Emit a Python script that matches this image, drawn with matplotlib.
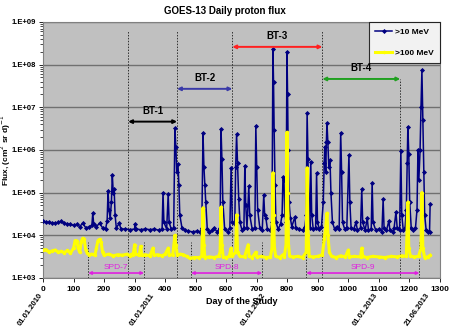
import matplotlib.pyplot as plt
from matplotlib.ticker import FixedLocator, LogLocator, NullFormatter

# >10 MeV daily flux (day, value)
days_10 = [0, 10, 20, 30, 40, 50, 60, 70, 80, 90, 100, 110, 120, 130, 140, 150, 160, 163, 166, 175,
           185, 195, 205, 210, 213, 216, 220, 224, 227, 230, 233, 236, 240, 250, 255, 270, 285, 300, 301, 305,
           320, 335, 350, 365, 380, 390, 393, 396, 405, 410, 413, 420, 428, 432, 435, 438, 442, 445, 448, 455,
           465, 475, 490, 505, 515, 520, 524, 527, 530, 533, 538, 545, 555, 560, 570, 580, 583, 586, 589, 595,
           605, 612, 616, 620, 628, 631, 634, 637, 641, 645, 652, 658, 661, 664, 668, 674, 677, 685, 694, 697,
           700, 703, 710, 718, 723, 726, 730, 735, 745, 750, 753, 755, 757, 760, 763, 770, 778, 783, 786, 789,
           792, 796, 799, 801, 803, 806, 810, 815, 825, 828, 840, 850, 858, 862, 865, 868, 871, 874, 877, 880,
           885, 893, 896, 899, 905, 912, 918, 921, 923, 926, 928, 930, 933, 936, 940, 943, 948, 955, 962, 970,
           975, 978, 981, 988, 995, 1002, 1005, 1009, 1018, 1025, 1030, 1040, 1044, 1047, 1055, 1062, 1066, 1075, 1078, 1081,
           1090, 1100, 1110, 1114, 1117, 1125, 1133, 1136, 1145, 1150, 1156, 1160, 1168, 1172, 1175, 1180, 1186, 1190, 1193, 1195,
           1198, 1201, 1206, 1213, 1220, 1225, 1228, 1231, 1235, 1238, 1241, 1244, 1247, 1250, 1255, 1262, 1266, 1268]
flux_10 = [2.1e4, 2.0e4, 2.0e4, 1.95e4, 1.9e4, 2.0e4, 2.1e4, 1.9e4, 1.85e4, 1.8e4, 1.7e4, 1.8e4, 1.6e4, 1.9e4, 1.5e4, 1.55e4, 1.7e4, 3.3e4, 1.8e4, 1.6e4,
           1.9e4, 1.5e4, 1.4e4, 2.2e4, 1.1e5, 4e4, 2.5e4, 6e4, 2.6e5, 1.0e5, 1.2e5, 3e4, 1.5e4, 1.9e4, 1.4e4, 1.4e4, 1.35e4, 1.4e4, 1.8e4, 1.4e4,
           1.35e4, 1.4e4, 1.35e4, 1.4e4, 1.3e4, 1.4e4, 1.0e5, 2e4, 1.4e4, 9.5e4, 2e4, 1.4e4, 1.5e4, 3.2e6, 1.2e6, 3e5, 4.7e5, 1.5e5, 3e4, 1.5e4,
           1.3e4, 1.25e4, 1.2e4, 1.25e4, 1.2e4, 1.5e4, 2.5e6, 4e5, 1.5e5, 6e4, 1.4e4, 1.2e4, 1.3e4, 1.5e4, 1.2e4, 1.5e4, 3.1e6, 6e5, 6e4, 1.4e4,
           1.2e4, 1.5e4, 3.8e5, 2e4, 1.8e4, 4e5, 2.3e6, 5e5, 7e4, 2e4, 1.3e4, 1.5e4, 4.3e5, 5e4, 1.5e4, 1.4e5, 3e4, 1.4e4, 1.5e4, 3.7e6,
           4e5, 4e4, 1.5e4, 1.3e4, 8.9e4, 3e4, 2.5e4, 1.4e4, 1.3e4, 2e4, 2.3e8, 4e7, 3e6, 1.5e5, 2e4, 1.4e4, 1.8e4, 3e4, 2.3e5, 2e5,
           3e4, 2e4, 2.0e8, 2e7, 1e6, 6e4, 2.5e4, 1.6e4, 2.7e4, 1.5e4, 1.4e4, 1.3e4, 1.6e4, 3e4, 7.4e6, 6e5, 4e4, 1.5e4, 5.3e5, 3e4,
           1.4e4, 1.5e4, 2.9e5, 2e4, 1.4e4, 1.6e4, 6e4, 5e5, 1.2e6, 3e5, 1.5e6, 4.3e6, 1.5e6, 4e5, 5.8e5, 1e5, 2e4, 1.4e4, 1.6e4, 1.4e4,
           2.5e6, 3e5, 2e4, 1.4e4, 1.5e4, 7.6e5, 6e4, 1.5e4, 1.4e4, 2e4, 1.3e4, 1.5e4, 1.2e5, 2e4, 1.3e4, 2.5e4, 1.3e4, 1.4e4, 1.7e5, 2e4,
           1.3e4, 1.4e4, 1.2e4, 7e4, 1.5e4, 1.3e4, 2.2e4, 1.3e4, 1.2e4, 1.5e4, 3.5e4, 1.5e4, 1.3e4, 9.5e5, 3e4, 1.3e4, 1.5e4, 4e4, 5e5, 3.5e6,
           8e5, 6e4, 1.5e4, 1.3e4, 1.5e4, 4e4, 1e6, 2e5, 1e6, 1e7, 7.5e7, 5e6, 3e5, 3e4, 1.3e4, 1.2e4, 1.2e4, 5.5e4]

# >100 MeV daily flux
days_100 = [0, 10, 20, 30, 40, 50, 60, 70, 80, 90, 100, 105, 110, 115, 120, 125, 130, 135, 140, 145,
            150, 160, 170, 175, 180, 185, 190, 195, 200, 215, 230, 245, 260, 275, 285, 290, 295, 300, 303, 315,
            320, 323, 335, 350, 360, 363, 375, 390, 400, 410, 413, 425, 432, 435, 440, 450, 460, 470, 480, 495,
            510, 520, 524, 527, 530, 545, 560, 575, 580, 583, 586, 590, 600, 610, 616, 619, 631, 634, 637, 645,
            660, 672, 675, 685, 697, 700, 715, 730, 745, 750, 753, 755, 758, 762, 775, 786, 790, 796, 799, 801,
            804, 808, 820, 835, 850, 862, 865, 868, 872, 885, 900, 915, 921, 926, 930, 933, 938, 945, 960, 975,
            990, 1000, 1003, 1020, 1040, 1044, 1047, 1060, 1080, 1100, 1120, 1140, 1160, 1175, 1190, 1195, 1198, 1203, 1215, 1230,
            1238, 1241, 1244, 1250, 1260, 1268]
flux_100 = [4.5e3, 4.6e3, 4.0e3, 4.3e3, 4.5e3, 4.0e3, 4.2e3, 3.9e3, 4.4e3, 3.8e3, 5e3, 7.5e3, 7.5e3, 5e3, 4e3, 7e3, 8.5e3, 8e3, 4.5e3, 3.8e3,
            3.5e3, 3.6e3, 3.4e3, 5e3, 7.5e3, 8e3, 7e3, 4e3, 3.4e3, 3.6e3, 3.3e3, 3.5e3, 3.4e3, 3.6e3, 3.3e3, 3.6e3, 3.4e3, 6e3, 3.6e3, 3.4e3,
            5.5e3, 3.4e3, 3.5e3, 3.3e3, 5e3, 3.4e3, 3.5e3, 3.3e3, 3.6e3, 5e3, 3.4e3, 3.5e3, 1.0e4, 6e3, 3.4e3, 3.6e3, 3.5e3, 3.2e3, 2.9e3, 3.0e3,
            3.0e3, 3.2e3, 4.4e4, 6e3, 3e3, 3.1e3, 3.0e3, 3.2e3, 4e3, 4.6e4, 6e3, 3.1e3, 3.0e3, 3.2e3, 5e3, 3.2e3, 4e3, 3e4, 4e3, 3.2e3,
            3.1e3, 6e3, 3.2e3, 3.0e3, 4e3, 3.1e3, 3.2e3, 3.0e3, 3.1e3, 5e3, 2.9e5, 3e4, 5e3, 3.2e3, 3.0e3, 3.5e3, 3.1e3, 6e3, 2.6e6, 1e5,
            6e3, 3.2e3, 3.1e3, 3.2e3, 3.0e3, 4e3, 3.8e5, 1e4, 3.2e3, 3.1e3, 3.2e3, 3.5e3, 8e3, 1.5e4, 3.3e4, 1e4, 4e3, 3.2e3, 3.0e3, 3.3e3,
            3.1e3, 4.5e3, 3.1e3, 3.2e3, 3.1e3, 5e3, 3.2e3, 3.0e3, 3.2e3, 3.1e3, 3.0e3, 3.2e3, 3.1e3, 3.3e3, 3.2e3, 6e4, 5e3, 3.3e3, 3.1e3, 3.2e3,
            5e3, 1e5, 5e3, 3.0e3, 3.1e3, 3.4e3]

# periods: (label, start day, end day, arrow level, colour)
bt_periods = [('BT-1', 279, 439, 4.6e6, 'black'),
              ('BT-2', 439, 620, 2.7e7, '#3a3aa8'),
              ('BT-3', 620, 915, 2.6e8, '#ff2020'),
              ('BT-4', 915, 1170, 4.6e7, '#20a020')]
spd_periods = [('SPD-7', 148, 331), ('SPD-8', 485, 718), ('SPD-9', 862, 1233)]

date_days = [0, 365, 730, 1096, 1267]
date_labels = ['01.01.2010', '01.01.2011', '01.01.2012', '01.01.2013', '21.06.2013']
ytick_vals = [1e3, 1e4, 1e5, 1e6, 1e7, 1e8, 1e9]
ytick_labels = ['1.E+03', '1.E+04', '1.E+05', '1.E+06', '1.E+07', '1.E+08', '1.E+09']

plt.rcParams['font.family'] = ['Liberation Sans', 'DejaVu Sans']

fig = plt.figure(figsize=(4.5, 3.32), dpi=100)
ax = fig.add_axes([0.0956, 0.163, 0.882, 0.771])
ax.set_facecolor('#c0c0c0')

ax.plot(days_10, flux_10, color='#000080', lw=1.1, marker='D', ms=2.6, mew=0, label='>10 MeV', zorder=3)
ax.plot(days_100, flux_100, color='#ffff00', lw=2.2, marker='o', ms=2.5, mew=0, label='>100 MeV', zorder=4)

ax.set_yscale('log')
ax.set_xlim(0, 1300)
ax.set_ylim(1e3, 1e9)

# BT boundaries
bt_edges = [279, 439, 620, 915]
for d in bt_edges:
    ax.plot([d, d], [1e3, 6e8], ls=(0, (1.5, 1.5)), color='#303030', lw=0.7, zorder=2)
ax.plot([1170, 1170], [1e3, 4.6e7], ls=(0, (1.5, 1.5)), color='#303030', lw=0.7, zorder=2)

for name, d0, d1, level, col in bt_periods:
    ax.annotate('', xy=(d0, level), xytext=(d1, level),
                arrowprops=dict(arrowstyle='<|-|>', color=col, lw=1.4, mutation_scale=5,
                                shrinkA=0, shrinkB=0), zorder=5)
    ax.text((d0 + d1) / 2, level * 1.35, name, ha='center', va='bottom',
            fontsize=7, fontweight='bold', color='black', zorder=7)

# SPD boundaries
for name, d0, d1 in spd_periods:
    for d in (d0, d1):
        ax.plot([d, d], [1e3, 7e3], ls=(0, (1.5, 1.5)), color='#303030', lw=0.7, zorder=2)
    ax.annotate('', xy=(d0, 1.3e3), xytext=(d1, 1.3e3),
                arrowprops=dict(arrowstyle='<|-|>', color='#e020e0', lw=1.2, mutation_scale=4,
                                shrinkA=0, shrinkB=0), zorder=5)
    ax.text((d0 + d1) / 2, 1.45e3, name, ha='center', va='bottom',
            fontsize=6, color='#e020e0', zorder=5)

ax.yaxis.set_major_locator(FixedLocator(ytick_vals))
ax.set_yticklabels(ytick_labels)
ax.yaxis.set_minor_locator(LogLocator(base=10, subs=range(2, 10), numticks=20))
ax.yaxis.set_minor_formatter(NullFormatter())
ax.set_xticks(range(0, 1301, 100))
ax.tick_params(axis='x', which='major', labelsize=6, length=3, width=0.6, pad=2.5)
ax.tick_params(axis='y', which='major', labelsize=5.5, length=3, width=0.6, pad=2)
ax.tick_params(axis='y', which='minor', length=2, width=0.5)
for lab in ax.get_xticklabels() + ax.get_yticklabels():
    lab.set_fontweight('bold')

ax.grid(axis='y', which='major', color='#707070', lw=1.0)
ax.set_axisbelow(True)
for sp in ax.spines.values():
    sp.set_color('#808080')

for d, lab in zip(date_days, date_labels):
    ax.text(d + 4, -0.055, lab, transform=ax.get_xaxis_transform(), rotation=55,
            ha='right', va='top', fontsize=5.5, fontweight='bold')

ax.set_xlabel('Day of the Study', fontsize=6.5, fontweight='bold', labelpad=3)
ax.set_ylabel('Flux, (cm$^{2}$ sr d)$^{-1}$', fontsize=6, fontweight='bold')
ax.yaxis.set_label_coords(-0.075, 0.5)
fig.text(0.50, 0.968, 'GOES-13 Daily proton flux', ha='center', va='center',
         fontsize=7, fontweight='bold')

handles, labels = ax.get_legend_handles_labels()
leg = ax.legend(handles, labels, loc='upper right', bbox_to_anchor=(1.0, 1.0),
                borderaxespad=0.0, fontsize=6, frameon=True, fancybox=False, edgecolor='black',
                borderpad=0.8, labelspacing=1.5, handlelength=2.0, handletextpad=0.3)
leg.get_frame().set_linewidth(0.8)
leg.set_zorder(6)
for t in leg.get_texts():
    t.set_fontweight('bold')

fig.savefig('out.png', dpi=100, facecolor='white')
